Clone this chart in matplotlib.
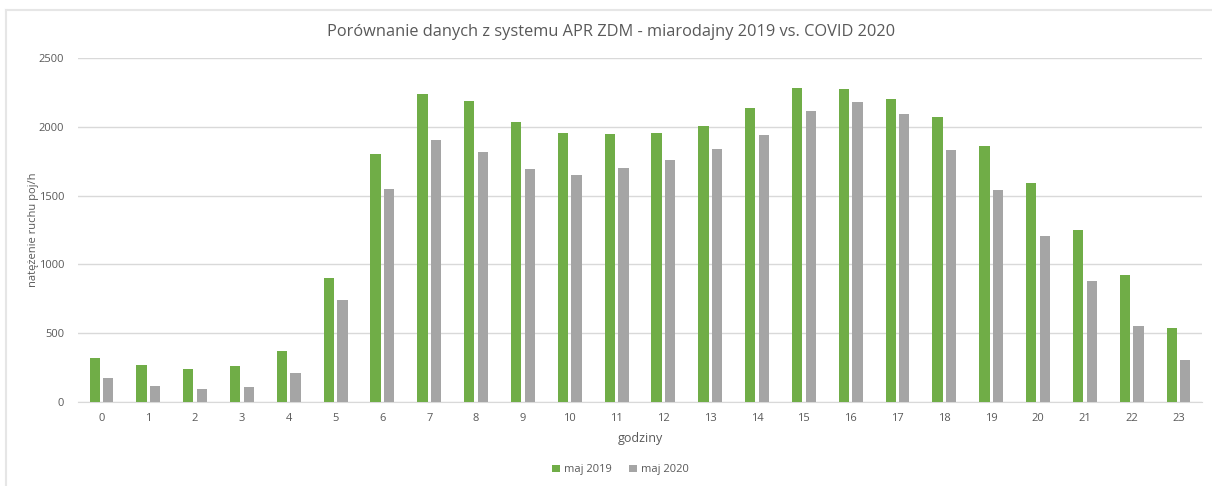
"""Porownanie natezenia ruchu APR ZDM: maj 2019 vs maj 2020."""
import matplotlib
matplotlib.use("Agg")
import matplotlib.pyplot as plt
from matplotlib.lines import Line2D
import numpy as np

hours = [str(h) for h in range(24)]
maj_2019 = [320, 269, 240, 262, 371, 902, 1802, 2236, 2185, 2032, 1952, 1945,
            1952, 2003, 2134, 2279, 2272, 2199, 2068, 1860, 1591, 1251, 924, 538]
maj_2020 = [175, 116, 95, 109, 211, 742, 1547, 1903, 1814, 1693, 1649, 1700,
            1758, 1838, 1940, 2114, 2180, 2093, 1831, 1540, 1208, 883, 555, 306]

GREEN = "#70ad47"
GRAY = "#a5a5a5"
TEXT = "#595959"

plt.rcParams["font.family"] = ["Open Sans", "DejaVu Sans"]

fig = plt.figure(figsize=(12.12, 4.86), dpi=100)
ax = fig.add_axes([0.0644, 0.1728, 0.9273, 0.7079])

x = np.arange(len(hours))
ax.bar(x - 0.145, maj_2019, width=0.22, color=GREEN, label="maj 2019", zorder=3)
ax.bar(x + 0.145, maj_2020, width=0.22, color=GRAY, label="maj 2020", zorder=3)

ax.set_xlim(-0.5, len(hours) - 0.5)
ax.set_ylim(0, 2500)
ax.set_yticks(range(0, 2501, 500))
ax.set_xticks(x)
ax.set_xticklabels(hours)
ax.grid(axis="y", color="#d9d9d9", linewidth=1, zorder=0)
for side in ("top", "right", "left"):
    ax.spines[side].set_visible(False)
ax.spines["bottom"].set_color("#d9d9d9")
ax.tick_params(axis="both", length=0, labelsize=8, colors=TEXT, pad=8)
ax.tick_params(axis="y", pad=10)

ax.set_xlabel("godziny", fontsize=9, color=TEXT, labelpad=6)
ax.set_ylabel("natężenie ruchu poj/h", fontsize=8, color=TEXT)
ax.yaxis.set_label_coords(-0.035, 0.5)

fig.text(0.504, 0.935, "Porównanie danych z systemu APR ZDM - miarodajny 2019 vs. COVID 2020",
         ha="center", va="center", fontsize=11.8, color=TEXT)

fig.legend(loc="center", bbox_to_anchor=(0.512, 0.033), ncol=2, frameon=False,
           fontsize=8, labelcolor=TEXT, handlelength=0.7, handleheight=0.7,
           columnspacing=1.5, handletextpad=0.4)

# light chart border like the original screenshot
fig.add_artist(Line2D([0.005, 1.0], [0.979, 0.979], color="#e6e6e6", linewidth=1.5))
fig.add_artist(Line2D([0.005, 0.005], [0.0, 0.979], color="#e6e6e6", linewidth=1.5))

fig.savefig("out.png", dpi=100)
plt.close(fig)
